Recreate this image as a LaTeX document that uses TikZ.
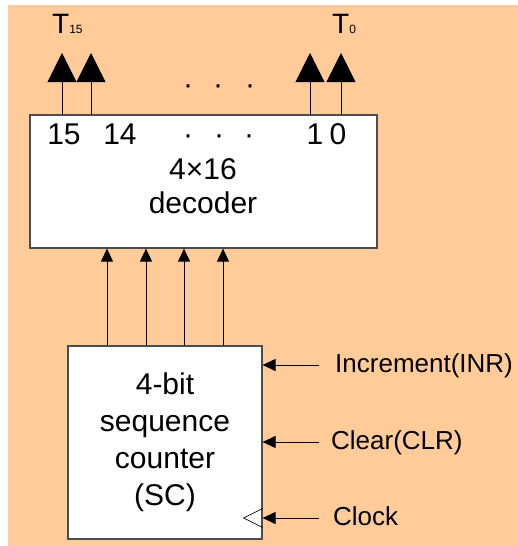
\documentclass[tikz,border=0pt]{standalone}
\usepackage{fontspec}
\setmainfont{Liberation Sans}
\usetikzlibrary{arrows.meta,positioning}
\definecolor{peach}{HTML}{FFCC99}

\begin{document}
\begin{tikzpicture}[x=1pt, y=-1pt,
  every node/.style = {inner sep=0pt},
  block/.style = {rectangle, draw=black!70, line width=1.2pt, fill=white},
  big/.style = {-{Triangle[length=29pt,width=29pt]}, line width=0.9pt},
  sml/.style = {-{Triangle[length=13pt,width=12pt]}, line width=0.9pt},
  sig/.style = {font=\fontsize{26}{30}\selectfont, anchor=west,
    text height=19pt, text depth=5pt},
  num/.style = {font=\fontsize{30}{36}\selectfont, anchor=base}]
  \useasboundingbox (0,0) rectangle (518,546);
  \fill[peach] (8,5) rectangle (518,546);

  \node[block, minimum width=347pt, minimum height=133pt] (dec) at (203.5,181.5) {};
  \node[block, minimum width=194pt, minimum height=193pt, align=center,
    font=\fontsize{30}{37}\selectfont] (sc) at (165,442.5)
    {4-bit\\sequence\\counter\\(SC)};

  % decoder lines and name
  \node[num] (n15) at (64,144) {15};
  \node[num] (n14) at (120,144) {14};
  \node[num] (n1) at (315,144) {1};
  \node[num] (n0) at (338,144) {0};
  \foreach \x [count=\i] in {188,219,249}
    \node[num] (d\i) at (\x,144) {·};
  \node[num] (dsize) at (203,179) {4×16};
  \node[num] (dname) at (203,213) {decoder};

  % timing outputs
  \foreach \x/\n in {62/15, 91/14, 310/1, 341/0} {
    \coordinate (t\n) at (\x,53);
    \draw[big] (dec.north -| t\n) -- (t\n);
  }
  \foreach \x [count=\i] in {188,218,250}
    \node[num] (e\i) at (\x,94) {·};
  \node[anchor=base west, font=\fontsize{28}{30}\selectfont] (T15) at (52,33)
    {T{\fontsize{12}{12}\selectfont 15}};
  \node[anchor=base west, font=\fontsize{28}{30}\selectfont] (T0) at (332,33)
    {T{\fontsize{12}{12}\selectfont 0}};

  % counter to decoder
  \foreach \x [count=\i] in {107,146,184,223} {
    \coordinate (q\i) at (\x,300);
    \draw[sml] (sc.north -| q\i) -- (dec.south -| q\i);
  }

  % control inputs
  \node[sig] (inr) at (335,365) {Increment(INR)};
  \node[sig] (clr) at (331,442) {Clear(CLR)};
  \node[sig] (clk) at (333,518) {Clock};
  \coordinate (tail) at (319,0);
  \foreach \n in {inr,clr,clk}
    \draw[sml] (tail |- \n.west) -- (sc.east |- \n.west);
  \coordinate (ck) at (sc.east |- clk.west);
  \draw[line width=0.6pt] ([yshift=9.5pt]ck) -- ([xshift=-19pt]ck) -- ([yshift=-9.5pt]ck);
\end{tikzpicture}
\end{document}
